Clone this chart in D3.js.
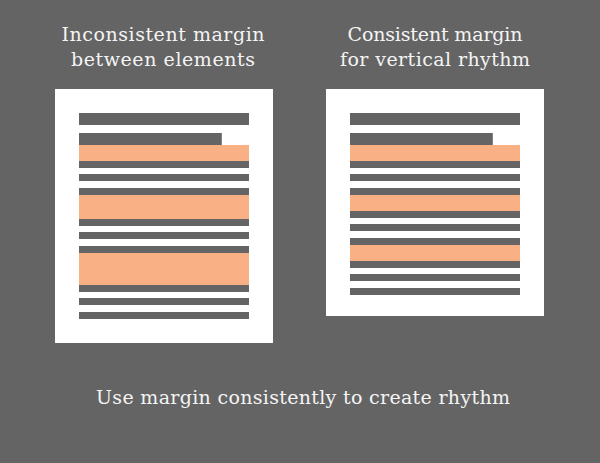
<!DOCTYPE html>
<html><head><meta charset="utf-8">
<script src="https://cdn.jsdelivr.net/npm/d3@7"></script>
<style>body{margin:0;background:#646464}</style></head>
<body><div id="chart"></div>
<script>
const titles = [["Inconsistent margin", "between elements"], ["Consistent margin", "for vertical rhythm"]];
const caption = "Use margin consistently to create rhythm";
// each row: [kind, top, bottom] in card units
const leftRows = [["g",113,125],["g",133,145,0.84],["o",145,161],["g",161,168],["g",174,181],["g",188,195],
  ["o",195,219],["g",219,226],["g",232,239],["g",246,253],["o",253,285],["g",285,292],["g",298,305],["g",312,319]];
const rightRows = [["g",113,125],["g",133,145,0.84],["o",145,161],["g",161,168],["g",174,181],["g",188,195],
  ["o",195,211],["g",211,218],["g",224,231],["g",238,245],["o",245,261],["g",261,268],["g",274,281],["g",288,295]];
const cards = [{x0:55,x1:273,y0:89,y1:343,bx:79,rows:leftRows,cx:163},{x0:326,x1:544,y0:89,y1:316,bx:350,rows:rightRows,cx:435}];

const svg = d3.select("#chart").append("svg").attr("width",600).attr("height",463);
svg.append("rect").attr("width",600).attr("height",463).attr("fill","#646464");
const y = d3.scaleLinear().domain([0,463]).range([0,463]);
const font = "'DejaVu Serif', serif";

cards.forEach((c,i) => {
  const g = svg.append("g");
  g.append("rect").attr("x",c.x0).attr("y",y(c.y0)).attr("width",c.x1-c.x0).attr("height",y(c.y1)-y(c.y0)).attr("fill","#fff");
  const x = d3.scaleLinear().domain([0,1]).range([c.bx, c.bx+170]);
  g.selectAll("rect.row").data(c.rows).enter().append("rect")
    .attr("class","row")
    .attr("x",x(0)).attr("width",d => x(d[3]||1)-x(0))
    .attr("y",d => y(d[1])).attr("height",d => y(d[2])-y(d[1]))
    .attr("fill",d => d[0]==="o" ? "#f9b084" : "#646464");
  titles[i].forEach((t,j) => svg.append("text").attr("x",c.cx).attr("y",41+j*25)
    .attr("text-anchor","middle").attr("fill","#f4f4f4").attr("font-family",font)
    .attr("font-size",19).attr("textLength",j===0?(i?175:203):(i?190:184)).text(t));
});
svg.append("text").attr("x",303).attr("y",404).attr("text-anchor","middle").attr("fill","#f4f4f4")
  .attr("font-family",font).attr("font-size",19).attr("textLength",414).text(caption);
</script></body></html>
